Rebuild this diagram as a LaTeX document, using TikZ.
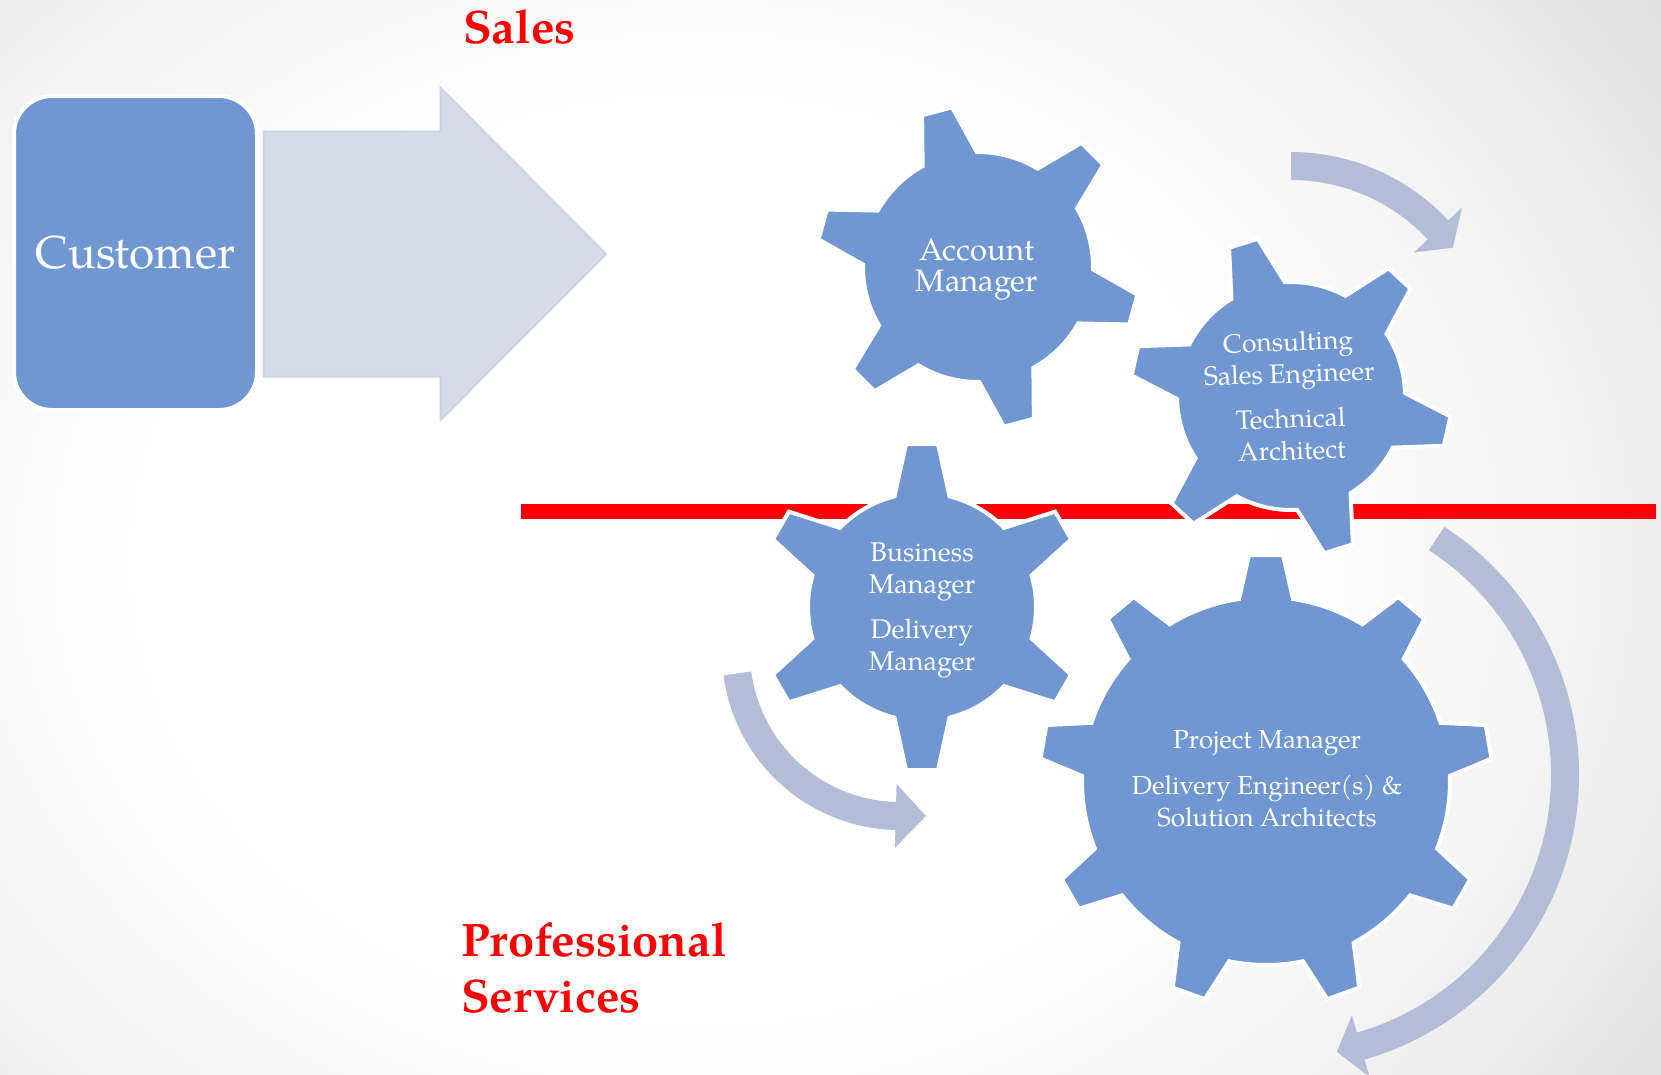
\documentclass[tikz,border=0pt]{standalone}
\usepackage{fontspec}
\setmainfont{texgyrepagella}[Extension=.otf, UprightFont=*-regular, BoldFont=*-bold, ItalicFont=*-italic, BoldItalicFont=*-bolditalic]
\usetikzlibrary{calc}

\definecolor{gearblue}{RGB}{112,151,210}
\definecolor{blockgrey}{RGB}{214,219,232}
\definecolor{blockedge}{RGB}{205,211,228}
\definecolor{flowblue}{RGB}{180,189,216}
\definecolor{bgB}{gray}{0.875}

% cog outline: #1,#2 centre, #3 body radius, #4 tooth radius,
% #5 number of teeth, #6 angle of first tooth, #7 half base width, #8 half tip width
\newcommand\drawgear[8]{%
  \pgfmathsetmacro\gstep{360/#5}%
  \pgfmathsetmacro\gab{asin(#7/#3)}%
  \path[gearstyle] ($(#1,#2)+(#6-\gab:#3)$)
    \foreach \gk [evaluate=\gk as \gth using #6+(\gk-1)*\gstep] in {1,...,#5}{
      -- ($(#1,#2)+(\gth-\gab:#3)$)
      -- ($(#1,#2)+(\gth:#4)+(\gth-90:#8)$)
      -- ($(#1,#2)+(\gth:#4)+(\gth+90:#8)$)
      -- ($(#1,#2)+(\gth+\gab:#3)$)
      arc[start angle=\gth+\gab, end angle=\gth+\gstep-\gab, radius=#3]
    } -- cycle;
}

\tikzset{
  gearstyle/.style={fill=gearblue, draw=white, line width=4pt},
  geartext/.style={text=white, align=center, inner sep=0pt},
  custbox/.style={fill=gearblue, draw=white, line width=4pt,
    rounded corners=38pt, minimum width=243pt, minimum height=314pt,
    text=white, font=\fontsize{46}{50}\selectfont},
  heading/.style={text=red, inner sep=0pt, align=left,
    font=\fontsize{47}{56}\selectfont\bfseries},
  redbar/.style={draw=red, line width=15pt},
  flowshaft/.style={draw=flowblue, line width=28pt},
  flowhead/.style={fill=flowblue},
  blockarrow/.style={fill=blockgrey, draw=blockedge, line width=2pt, line join=miter}
}

\begin{document}
\begin{tikzpicture}[x=1pt, y=-1pt]
  \useasboundingbox (0,0) rectangle (1661,1074);

  % page background: white centre fading to grey towards the corners
  \begin{scope}
    \clip (0,0) rectangle (1661,1074);
    \fill[bgB] (0,0) rectangle (1661,1074);
    \foreach \rr in {56,55.5,...,25.5}{
      \pgfmathsetmacro\gv{\rr>42 ? max(0.875, 0.945-(\rr-42)/12*0.07)
                                 : min(1, 1-(\rr-26)/16*0.055)}
      \definecolor{bgstep}{gray}{\gv}
      \fill[bgstep] (700,560) ellipse [x radius=22*\rr, y radius=18*\rr];
    }
  \end{scope}

  % divider between sales and professional services
  \coordinate (div1) at (521,511.5);
  \coordinate (div2) at (1656,511.5);
  \draw[redbar] (div1) -- (div2);

  % broad arrow leaving the customer
  \path[blockarrow] (263.8,131.5) -- (440.7,131.5) -- (440.7,88) -- (606,254)
    -- (440.7,420) -- (440.7,376.5) -- (263.8,376.5) -- cycle;

  \node[custbox] (cust) at (135.5,253) {Customer};

  % curved flow arrows
  \coordinate (arcA) at (1291,367);
  \draw[flowshaft] ([shift={(arcA)}]-90:201) arc[start angle=-90, end angle=-42, radius=201];
  \fill[flowhead] ([shift={(arcA)}]-43:168) -- ([shift={(arcA)}]-43:234)
    -- ([shift={(arcA)}]-36.4:201) -- cycle;

  \coordinate (arcB) at (1283,775);
  \draw[flowshaft] ([shift={(arcB)}]-57:282) arc[start angle=-57, end angle=74.5, radius=282];
  \fill[flowhead] ([shift={(arcB)}]74:250) -- ([shift={(arcB)}]74:314)
    -- ([shift={(arcB)}]79:282) -- cycle;

  \coordinate (arcC) at (900,652);
  \draw[flowshaft] ([shift={(arcC)}]172.5:164) arc[start angle=172.5, end angle=91, radius=164];
  \fill[flowhead] ([shift={(arcC)}]91.5:132) -- ([shift={(arcC)}]91.5:196)
    -- ([shift={(arcC)}]81:166) -- cycle;

  % cogs
  \drawgear{978}{267}{115}{161}{6}{15.3}{28}{15.5}
  \drawgear{1291}{396}{114}{160}{6}{12.7}{28}{15}
  \drawgear{922}{607}{114}{163}{6}{-90}{27.5}{16}
  \drawgear{1266}{781}{184}{226}{9}{-90}{27}{17}

  \node[geartext, font=\fontsize{31}{31}\selectfont] (am) at (977,270) {Account\\Manager};
  \node[geartext, rotate=2, font=\fontsize{26.5}{32}\selectfont] (cse) at (1290,396)
    {Consulting\\Sales Engineer\\[13pt]Technical\\Architect};
  \node[geartext, font=\fontsize{27}{32}\selectfont] (bm) at (922,610.5)
    {Business\\Manager\\[13pt]Delivery\\Manager};
  \node[geartext, font=\fontsize{26}{32}\selectfont] (pm) at (1267,778.5)
    {Project Manager\\[14pt]Delivery Engineer(s) \&\\Solution Architects};

  % section headings
  \node[heading, anchor=base west] (sales) at (463,43) {Sales};
  \node[heading, anchor=base west] (ps) at (461,1012) {Professional\\Services};
\end{tikzpicture}
\end{document}
